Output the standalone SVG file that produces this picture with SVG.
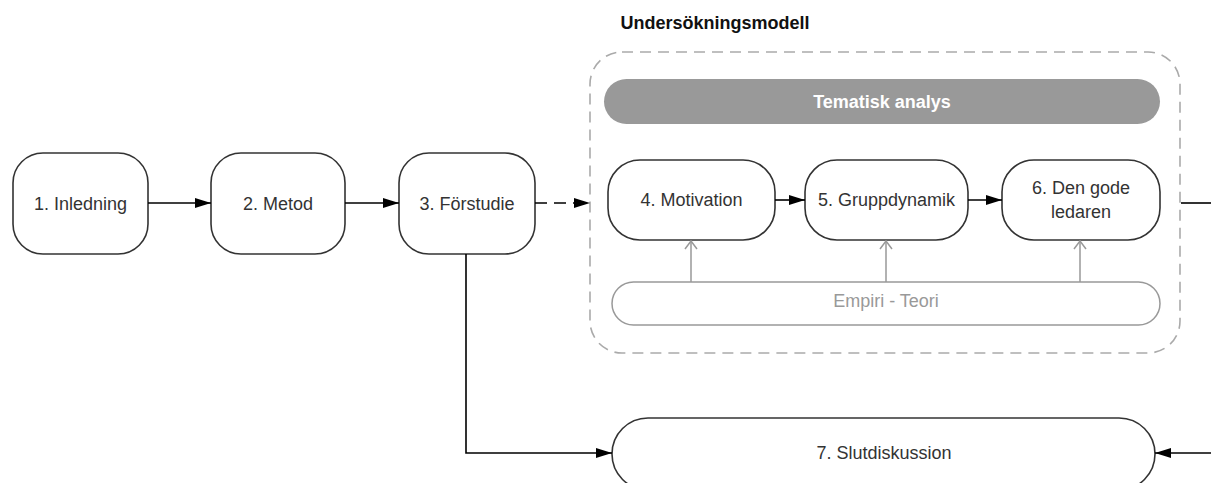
<svg xmlns="http://www.w3.org/2000/svg" width="1211" height="483" viewBox="0 0 1211 483">
<defs>
<marker id="ah" viewBox="0 0 16 10" refX="16" refY="5" markerWidth="16" markerHeight="10" markerUnits="userSpaceOnUse" orient="auto">
<path d="M0,0 L16,5 L0,10 Z" fill="#000"/>
</marker>
<marker id="ao" viewBox="0 0 10 14" refX="9" refY="7" markerWidth="10" markerHeight="14" markerUnits="userSpaceOnUse" orient="auto">
<path d="M1,1 L9,7 L1,13" fill="none" stroke="#999" stroke-width="1.5"/>
</marker>
<style>
.box{fill:#fff;stroke:#333;stroke-width:1.6}
.t{font-family:"Liberation Sans",Arial,sans-serif;font-size:18px;fill:#333;text-anchor:middle}
.b{font-weight:bold}
.c{fill:none;stroke:#000;stroke-width:1.6}
.g{fill:none;stroke:#999;stroke-width:1.5}
</style>
</defs>
<rect width="1211" height="483" fill="#fff"/>

<g id="container">
<text class="t b" x="715" y="29" style="fill:#111">Undersökningsmodell</text>
<rect x="590" y="52" width="590" height="301" rx="32" fill="none" stroke="#aaa" stroke-width="1.6" stroke-dasharray="11,7"/>
</g>

<g id="tematisk">
<rect x="604" y="79" width="556" height="45" rx="22.5" fill="#999"/>
<text class="t b" x="882" y="108" style="fill:#fff">Tematisk analys</text>
</g>

<g id="empiri">
<rect x="612" y="282" width="548" height="43" rx="21.5" fill="#fff" stroke="#999" stroke-width="1.5"/>
<text class="t" x="886" y="307" style="fill:#999">Empiri - Teori</text>
</g>

<g id="n1"><rect class="box" x="13" y="153" width="135" height="101" rx="30"/><text class="t" x="80.5" y="210">1. Inledning</text></g>
<g id="n2"><rect class="box" x="211" y="153" width="134" height="101" rx="30"/><text class="t" x="278" y="210">2. Metod</text></g>
<g id="n3"><rect class="box" x="399" y="153" width="136" height="101" rx="30"/><text class="t" x="467" y="210">3. Förstudie</text></g>
<g id="n4"><rect class="box" x="608" y="160" width="167" height="80" rx="32"/><text class="t" x="691.5" y="206">4. Motivation</text></g>
<g id="n5"><rect class="box" x="805" y="160" width="163" height="80" rx="32"/><text class="t" x="886.5" y="206">5. Gruppdynamik</text></g>
<g id="n6"><rect class="box" x="1002" y="160" width="158" height="80" rx="32"/><text class="t" x="1081" y="194">6. Den gode</text><text class="t" x="1081" y="218">ledaren</text></g>
<g id="n7"><rect class="box" x="612" y="418" width="543" height="72" rx="36"/><text class="t" x="884" y="459">7. Slutdiskussion</text></g>

<g id="connectors">
<line class="c" x1="148" y1="203" x2="211" y2="203" marker-end="url(#ah)"/>
<line class="c" x1="345" y1="203" x2="399" y2="203" marker-end="url(#ah)"/>
<line class="c" x1="535" y1="203" x2="590" y2="203" stroke-dasharray="12,7" marker-end="url(#ah)"/>
<line class="c" x1="775" y1="200" x2="805" y2="200" marker-end="url(#ah)"/>
<line class="c" x1="968" y1="200" x2="1002" y2="200" marker-end="url(#ah)"/>
<line class="c" x1="1181" y1="203" x2="1211" y2="203"/>
<polyline class="c" points="466,254 466,453 612,453" marker-end="url(#ah)"/>
<line class="c" x1="1211" y1="453" x2="1155" y2="453" marker-end="url(#ah)"/>
<line class="g" x1="691" y1="282" x2="691" y2="241" marker-end="url(#ao)"/>
<line class="g" x1="886" y1="282" x2="886" y2="241" marker-end="url(#ao)"/>
<line class="g" x1="1080" y1="282" x2="1080" y2="241" marker-end="url(#ao)"/>
</g>
</svg>
